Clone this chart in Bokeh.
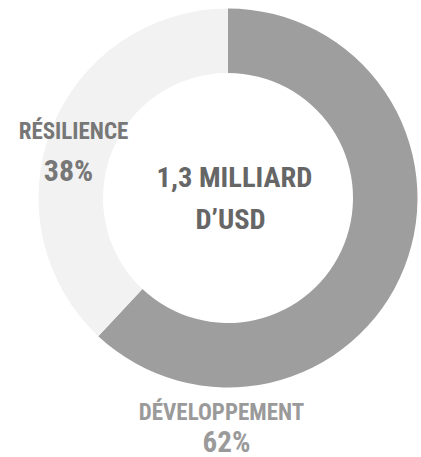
import math
from bokeh.plotting import figure
from bokeh.models import Range1d
from bokeh.core.properties import value
from bokeh.embed import file_html
from bokeh.resources import INLINE

# data
categories = ["DÉVELOPPEMENT", "RÉSILIENCE"]
shares = [62, 38]
pct_labels = ["62%", "38%"]
colors = ["#9e9e9e", "#f2f2f2"]
center_lines = ["1,3 MILLIARD", "D\u2019USD"]

W, H = 421, 457
FONT = "Roboto Condensed"

p = figure(width=W, height=H, output_backend="svg", toolbar_location=None,
           x_range=Range1d(0, W), y_range=Range1d(0, H),
           min_border=0, outline_line_color=None, background_fill_color="white",
           border_fill_color="white")
p.axis.visible = False
p.grid.visible = False

def Y(y):
    return H - y

cx, cy = 227.5, Y(197.5)
r_out, r_in = 189.5, 125

total = sum(shares)
start = math.pi / 2
for s, c in zip(shares, colors):
    sweep = 2 * math.pi * s / total
    end = start - sweep
    p.annular_wedge(x=cx, y=cy, inner_radius=r_in, outer_radius=r_out,
                    start_angle=end, end_angle=start, direction="anticlock",
                    fill_color=c, line_color=None)
    start = end

def txt(x, y, t, size, color):
    p.text(x=[x], y=[Y(y)], text=[t], text_font=value(FONT), text_font_style="bold",
           text_font_size=size, text_color=color, text_align="center",
           text_baseline="alphabetic")

# center
txt(234, 177, center_lines[0], "28.5px", "#666666")
txt(230, 219, center_lines[1], "28.5px", "#666666")

# labels
txt(73, 131, categories[1], "23px", "#777777")
txt(68, 170, pct_labels[1], "30px", "#777777")
txt(221, 412, categories[0], "23px", "#9a9a9a")
txt(226, 441, pct_labels[0], "29px", "#9a9a9a")

open("out.html", "w").write(file_html(p, INLINE))
